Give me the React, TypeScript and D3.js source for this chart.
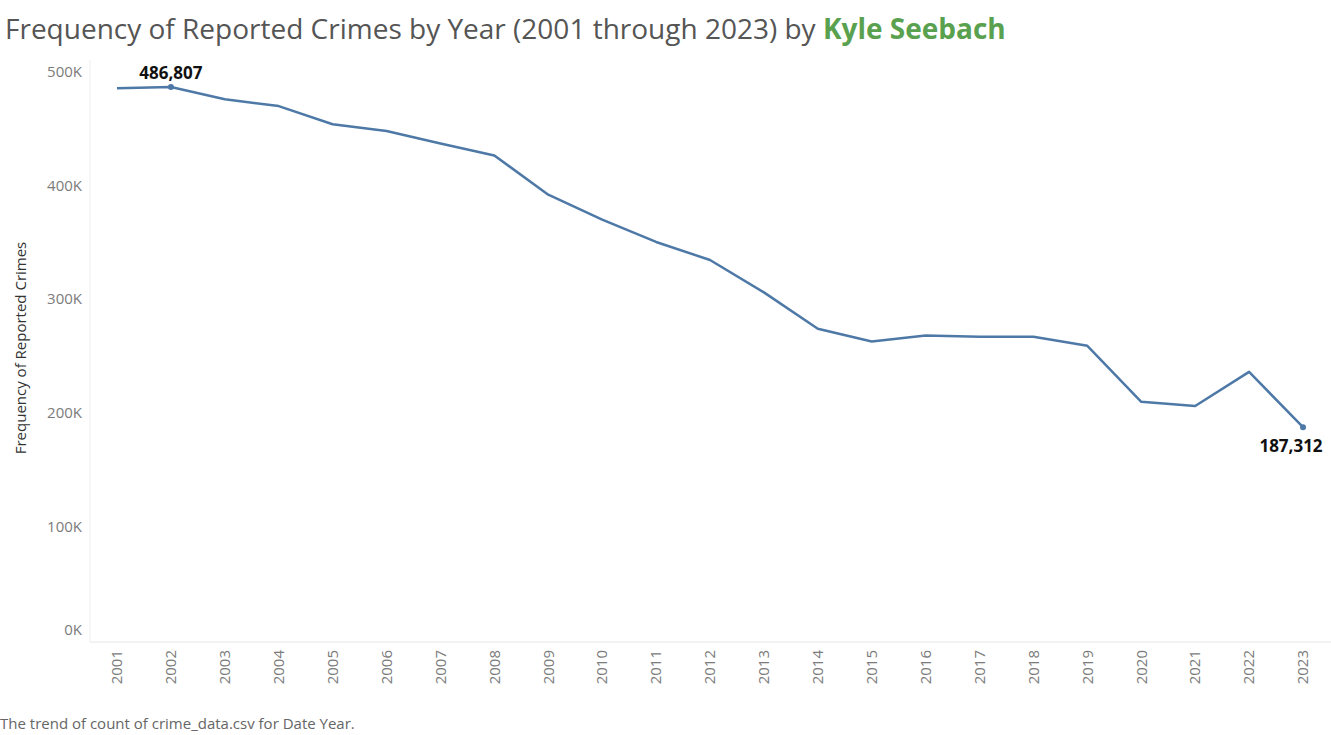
import * as React from 'react'
import * as d3 from 'd3'

const years = ['2001','2002','2003','2004','2005','2006','2007','2008','2009','2010','2011','2012','2013','2014','2015','2016','2017','2018','2019','2020','2021','2022','2023']
const counts = [485800, 486807, 476000, 470000, 454000, 448000, 437000, 426500, 392000, 370000, 350400, 334500, 306000, 274000, 262800, 268000, 267000, 267000, 259000, 209700, 206000, 236000, 187312]
const yTicks = [0, 100000, 200000, 300000, 400000, 500000]

export default function App() {
    const W = 1331, H = 735
    const x = d3.scalePoint<string>().domain(years).range([117, 1303])
    const y = d3.scaleLinear().domain([0, 500000]).range([640, 72])
    const line = d3.line<number>().x((_, i) => x(years[i]) as number).y(d => y(d))
    const fmt = d3.format(',d')
    const gray = '#7b7b7b'
    const font = "'Open Sans', 'Noto Sans', sans-serif"
    const last = counts.length - 1

    return (
        <svg width={W} height={H} style={{position: 'absolute', left: 0, top: 0, fontFamily: font}}>
            <rect width={W} height={H} fill="#fff" />
            <text x={5} y={39} fontSize={28} fill="#555">
                Frequency of Reported Crimes by Year (2001 through 2023) by <tspan fill="#59a14f" fontWeight="bold">Kyle Seebach</tspan>
            </text>
            <line x1={90} x2={90} y1={60} y2={642} stroke="#eee" />
            <line x1={90} x2={1331} y1={642} y2={642} stroke="#e6e6e6" />
            {yTicks.map(t => (
                <text key={t} x={82} y={t === 0 ? 630 : y(t)} dy="0.35em" textAnchor="end" fontSize={15} fill={gray}>
                    {t / 1000}K
                </text>
            ))}
            <text transform="translate(26,348) rotate(-90)" textAnchor="middle" fontSize={15} fill="#333">
                Frequency of Reported Crimes
            </text>
            {years.map(yr => (
                <text key={yr} transform={`translate(${x(yr)},650) rotate(-90)`} dy="0.35em" textAnchor="end" fontSize={15} fill={gray}>
                    {yr}
                </text>
            ))}
            <path d={line(counts) as string} fill="none" stroke="#4e79a7" strokeWidth={2.5} strokeLinejoin="round" />
            <circle cx={x(years[1])} cy={y(counts[1])} r={3} fill="#4e79a7" />
            <circle cx={x(years[last])} cy={y(counts[last])} r={3} fill="#4e79a7" />
            <text x={x(years[1])} y={y(counts[1]) - 8} textAnchor="middle" fontSize={17} fontWeight="bold" fill="#111">{fmt(counts[1])}</text>
            <text x={1291} y={y(counts[last]) + 25} textAnchor="middle" fontSize={17} fontWeight="bold" fill="#111">{fmt(counts[last])}</text>
            <text x={0} y={729} fontSize={15} fill="#666">The trend of count of crime_data.csv for Date Year.</text>
        </svg>
    )
}
